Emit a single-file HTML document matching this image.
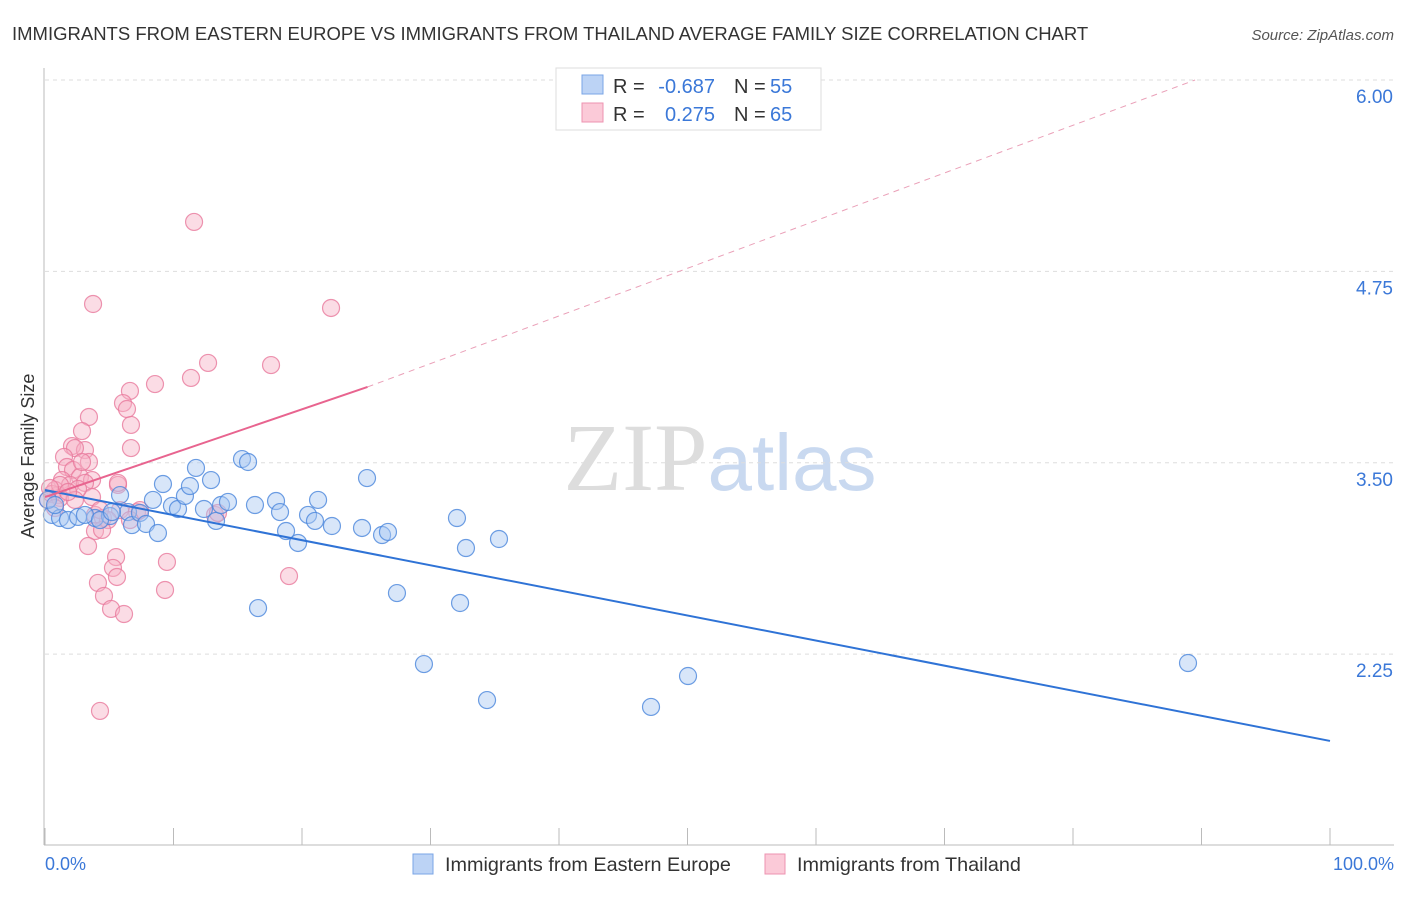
<!DOCTYPE html>
<html><head><meta charset="utf-8"><style>
body{margin:0;background:#fff;font-family:"Liberation Sans",sans-serif}
</style></head><body>
<svg id="chart" width="1406" height="892" xmlns="http://www.w3.org/2000/svg" style="font-family:'Liberation Sans',sans-serif">
<text x="12" y="40" font-size="18.5" fill="#333">IMMIGRANTS FROM EASTERN EUROPE VS IMMIGRANTS FROM THAILAND AVERAGE FAMILY SIZE CORRELATION CHART</text>
<text x="1394" y="40" font-size="15" fill="#555" text-anchor="end" font-style="italic">Source: ZipAtlas.com</text>
<text x="720" y="490" font-size="96" text-anchor="middle" fill="#ddd" font-family="Liberation Serif">ZIP<tspan fill="#c9d9f0" font-family="Liberation Sans" font-size="80">atlas</tspan></text>
<g id="grid"></g><g id="marks"></g><g id="axes"></g>
<g font-size="20">
<rect x="556" y="68" width="265" height="62" fill="#fff" stroke="#ddd"/>
<rect x="582" y="75" width="21" height="19" fill="#bcd3f5" stroke="#7aa5e6"/>
<rect x="582" y="103" width="21" height="19" fill="#fbcad8" stroke="#ee93b0"/>
<text x="613" y="93" fill="#333">R =</text><text x="715" y="93" fill="#3b78d8" text-anchor="end">-0.687</text>
<text x="734" y="93" fill="#333">N =</text><text x="770" y="93" fill="#3b78d8">55</text>
<text x="613" y="121" fill="#333">R =</text><text x="715" y="121" fill="#3b78d8" text-anchor="end">0.275</text>
<text x="734" y="121" fill="#333">N =</text><text x="770" y="121" fill="#3b78d8">65</text>
</g>
<text transform="translate(34,456) rotate(-90)" font-size="18" fill="#333" text-anchor="middle">Average Family Size</text>
<text x="45" y="870" font-size="18" fill="#3b78d8">0.0%</text>
<text x="1394" y="870" font-size="18" fill="#3b78d8" text-anchor="end">100.0%</text>
<g><rect x="413" y="854" width="20" height="20" fill="#bcd3f5" stroke="#7aa5e6"/><text x="445" y="871" font-size="19.8" fill="#333">Immigrants from Eastern Europe</text></g>
<g><rect x="765" y="854" width="20" height="20" fill="#fbcad8" stroke="#ee93b0"/><text x="797" y="871" font-size="19.8" fill="#333">Immigrants from Thailand</text></g>
</svg>
<script>
const yTicks=[6.00,4.75,3.50,2.25];
const yTickLabels=["6.00","4.75","3.50","2.25"];
const blueX=[0.54,1.17,1.79,2.57,3.89,5.06,5.84,6.46,6.77,7.39,7.86,8.40,8.79,9.18,9.88,10.35,10.89,11.28,11.75,12.37,12.92,13.31,13.70,14.24,15.33,15.80,16.34,16.58,17.98,18.29,18.76,19.69,20.47,21.01,21.25,22.33,24.67,25.06,26.23,26.69,27.39,29.49,32.06,32.30,32.76,34.40,35.33,47.16,50.04,88.95,0.23,3.11,4.28,5.21,0.78];
const blueY=[3.159,3.139,3.126,3.146,3.139,3.152,3.289,3.178,3.093,3.172,3.100,3.257,3.041,3.361,3.218,3.198,3.283,3.348,3.466,3.198,3.387,3.120,3.224,3.244,3.524,3.505,3.224,2.551,3.250,3.178,3.054,2.976,3.159,3.120,3.257,3.087,3.074,3.400,3.028,3.048,2.649,2.185,3.139,2.584,2.943,1.950,3.002,1.905,2.107,2.192,3.257,3.159,3.126,3.178,3.224];
const pinkX=[11.60,3.74,22.26,12.69,17.59,11.36,8.56,6.61,6.07,6.38,3.42,6.69,2.88,6.69,2.10,3.11,2.33,1.48,3.42,1.71,2.18,2.72,3.66,1.32,1.95,0.78,1.01,0.23,0.54,1.17,3.11,3.66,2.57,5.68,5.84,5.68,2.33,3.89,4.51,4.90,4.28,7.16,7.39,13.23,13.46,3.89,4.44,3.35,5.53,5.29,9.49,4.12,5.60,9.34,4.59,18.99,5.14,6.15,4.28,0.78,1.17,1.79,0.39,6.61,2.88];
const pinkY=[5.073,4.537,4.511,4.152,4.138,4.054,4.014,3.969,3.890,3.851,3.799,3.747,3.707,3.596,3.609,3.583,3.596,3.538,3.505,3.472,3.453,3.407,3.387,3.387,3.355,3.322,3.289,3.257,3.296,3.270,3.368,3.276,3.329,3.355,3.191,3.368,3.257,3.159,3.139,3.126,3.191,3.178,3.191,3.159,3.172,3.054,3.061,2.956,2.884,2.813,2.852,2.715,2.754,2.669,2.630,2.760,2.545,2.512,1.879,3.204,3.355,3.309,3.335,3.126,3.505];
const blueTrend=[[0,3.322],[100,1.683]];
const pinkTrendSolid=[[0,3.276],[25.1,3.995]];
const pinkTrendDashed=[[25.1,3.995],[89.5,6.0]];
const NS="http://www.w3.org/2000/svg";
const X=v=>45+v*12.85, Y=v=>80+(6-v)*153.1;
function mk(t,a,p){const e=document.createElementNS(NS,t);for(const k in a)e.setAttribute(k,a[k]);document.getElementById(p).appendChild(e);return e;}
yTicks.forEach((t,i)=>{
 const l=mk('line',{x1:45,x2:1394,y1:Y(t),y2:Y(t),stroke:'#ddd','stroke-dasharray':'4,4'},'grid');
 
 
 const tx=mk('text',{x:1393,y:Y(t)+23,'font-size':19,fill:'#3b78d8','text-anchor':'end'},'grid');
 tx.textContent=yTickLabels[i];
 
 
});
const ax=mk('line',{x1:44,x2:44,y1:68,y2:845,stroke:'#bbb'},'axes');


const bx=mk('line',{x1:44,x2:1394,y1:845,y2:845,stroke:'#bbb'},'axes');


for(let i=0;i<=10;i++){const t=mk('line',{x1:X(i*10),x2:X(i*10),y1:828,y2:845,stroke:'#bbb'},'axes');
 
 }
function dots(xs,ys,fill,stroke,name){xs.forEach((x,i)=>{const c=mk('circle',{cx:X(x),cy:Y(ys[i]),r:8.5,fill:fill,'fill-opacity':0.45,stroke:stroke,'stroke-opacity':0.8,'stroke-width':1.2},'marks');
 
 });}
dots(pinkX,pinkY,'#f7b1c6','#e8799c','thailand-point');
dots(blueX,blueY,'#a9c8f2','#4a86dc','eastern-europe-point');
function line(p,st,w,da,name){const l=mk('line',{x1:X(p[0][0]),y1:Y(p[0][1]),x2:X(p[1][0]),y2:Y(p[1][1]),stroke:st,'stroke-width':w},'marks');if(da)l.setAttribute('stroke-dasharray',da);
 
 }
line(blueTrend,'#2f73d6',2,null,'eastern-europe-trendline');
line(pinkTrendSolid,'#e8648f',2,null,'thailand-trendline');
line(pinkTrendDashed,'#eaa0b8',1,'6,5','thailand-trendline-extension');
</script>
</body></html>
